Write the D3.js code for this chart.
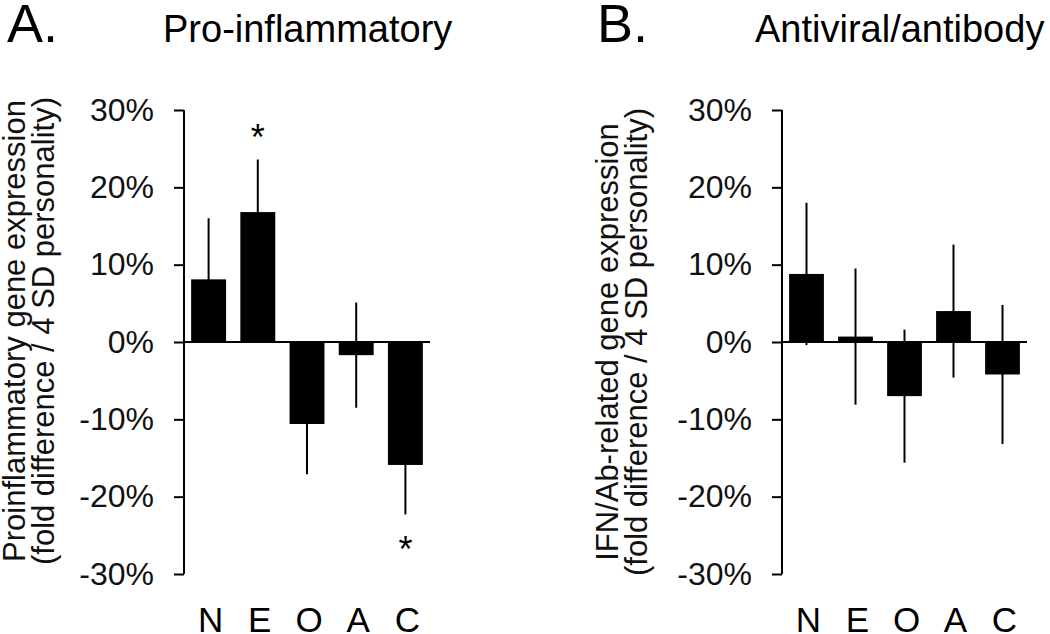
<!DOCTYPE html>
<html>
<head>
<meta charset="utf-8">
<script src="https://cdn.jsdelivr.net/npm/d3@7"></script>
<style>
  body { margin: 0; background: #fff; }
  svg { display: block; font-family: Arial, "Liberation Sans", sans-serif; }
</style>
</head>
<body>
<svg id="chart" width="1050" height="634"></svg>
<script>
// personality traits on the x axis
var categories = ["N", "E", "O", "A", "C"];
var tickValues = [-30, -20, -10, 0, 10, 20, 30];

// panel A - pro-inflammatory
var proValues = [8.1, 16.8, -10.6, -1.7, -15.9];
var proErrors = [7.9, 6.8, 6.5, 6.8, 6.4];
var proSig = [false, true, false, false, true];

// panel B - antiviral/antibody
var abValues = [8.8, 0.7, -7.0, 4.0, -4.2];
var abErrors = [9.2, 8.8, 8.6, 8.6, 9.0];
var abSig = [false, false, false, false, false];

var svg = d3.select("#chart");

var y = d3.scaleLinear().domain([-30, 30]).range([574, 110]);

var drawPanel = function(opts) {
  var g = svg.append("g");

  var x = d3.scaleBand()
    .domain(categories)
    .range([opts.left, opts.right])
    .paddingInner(0.29)
    .paddingOuter(0.145);

  var data = categories.map(function(c, i) {
    return {cat: c, value: opts.values[i], err: opts.errors[i], sig: opts.sig[i]};
  });

  // panel letter + title
  g.append("text")
    .attr("x", opts.letterX).attr("y", 42)
    .style("font-size", "54px")
    .text(opts.letter);
  g.append("text")
    .attr("x", opts.titleX).attr("y", 42)
    .style("font-size", "38px")
    .text(opts.title);

  // y axis
  var yAxis = d3.axisLeft(y)
    .tickValues(tickValues)
    .tickSize(10)
    .tickPadding(20)
    .tickFormat(function(d) { return d + "%"; });

  var ax = g.append("g")
    .attr("transform", "translate(" + opts.left + ",0)")
    .call(yAxis);
  ax.select(".domain").remove();
  ax.append("line")
    .attr("x1", 0).attr("x2", 0)
    .attr("y1", y(30)).attr("y2", y(-30))
    .attr("stroke", "#000").attr("stroke-width", 2);
  ax.selectAll(".tick line").attr("stroke", "#000").attr("stroke-width", 2);
  ax.selectAll(".tick text")
    .attr("fill", "#111")
    .style("font-size", "32px")
    .style("font-family", "Arial, 'Liberation Sans', sans-serif");

  // error bars (drawn first; hidden inside the black bars)
  g.selectAll(".err")
    .data(data)
    .enter()
    .append("line")
    .attr("class", "err")
    .attr("x1", function(d) { return x(d.cat) + x.bandwidth() / 2; })
    .attr("x2", function(d) { return x(d.cat) + x.bandwidth() / 2; })
    .attr("y1", function(d) { return y(d.value + d.err); })
    .attr("y2", function(d) { return y(d.value - d.err); })
    .attr("stroke", "#000")
    .attr("stroke-width", 2);

  g.selectAll(".bar")
    .data(data)
    .enter()
    .append("rect")
    .attr("class", "bar")
    .attr("x", function(d) { return x(d.cat); })
    .attr("width", x.bandwidth())
    .attr("y", function(d) { return y(Math.max(0, d.value)); })
    .attr("height", function(d) { return Math.abs(y(d.value) - y(0)); })
    .attr("fill", "#000");

  // zero line
  g.append("line")
    .attr("x1", opts.left).attr("x2", opts.right)
    .attr("y1", y(0)).attr("y2", y(0))
    .attr("stroke", "#000").attr("stroke-width", 2);

  // significance stars
  g.selectAll(".star")
    .data(data.filter(function(d) { return d.sig; }))
    .enter()
    .append("text")
    .attr("class", "star")
    .attr("text-anchor", "middle")
    .style("font-size", "36px")
    .attr("x", function(d) { return x(d.cat) + x.bandwidth() / 2; })
    .attr("y", function(d) {
      return d.value >= 0 ? y(d.value + d.err) - 9 : y(d.value - d.err) + 48;
    })
    .text("*");

  // category labels
  g.selectAll(".cat")
    .data(data)
    .enter()
    .append("text")
    .attr("class", "cat")
    .attr("text-anchor", "middle")
    .style("font-size", "35px")
    .attr("x", function(d) { return x(d.cat) + x.bandwidth() / 2 + 2; })
    .attr("y", 632)
    .text(function(d) { return d.cat; });

  // y label, two lines
  var yl = g.append("text")
    .attr("transform", "translate(" + opts.labelX + "," + opts.labelY + ") rotate(-90)")
    .attr("text-anchor", "middle")
    .style("font-size", "31px")
    .attr("fill", "#111");
  yl.append("tspan").attr("x", 0).attr("y", 0).text(opts.label1);
  yl.append("tspan").attr("x", 0).attr("y", 29).text(opts.label2);
};

drawPanel({
  left: 184, right: 430,
  values: proValues, errors: proErrors, sig: proSig,
  letter: "A.", letterX: 7,
  title: "Pro-inflammatory", titleX: 163,
  labelX: 25, labelY: 331,
  label1: "Proinflammatory gene expression",
  label2: "(fold difference / 4 SD personality)"
});

drawPanel({
  left: 782, right: 1027,
  values: abValues, errors: abErrors, sig: abSig,
  letter: "B.", letterX: 597,
  title: "Antiviral/antibody", titleX: 755,
  labelX: 618, labelY: 342,
  label1: "IFN/Ab-related gene expression",
  label2: "(fold difference / 4 SD personality)"
});
</script>
</body>
</html>
